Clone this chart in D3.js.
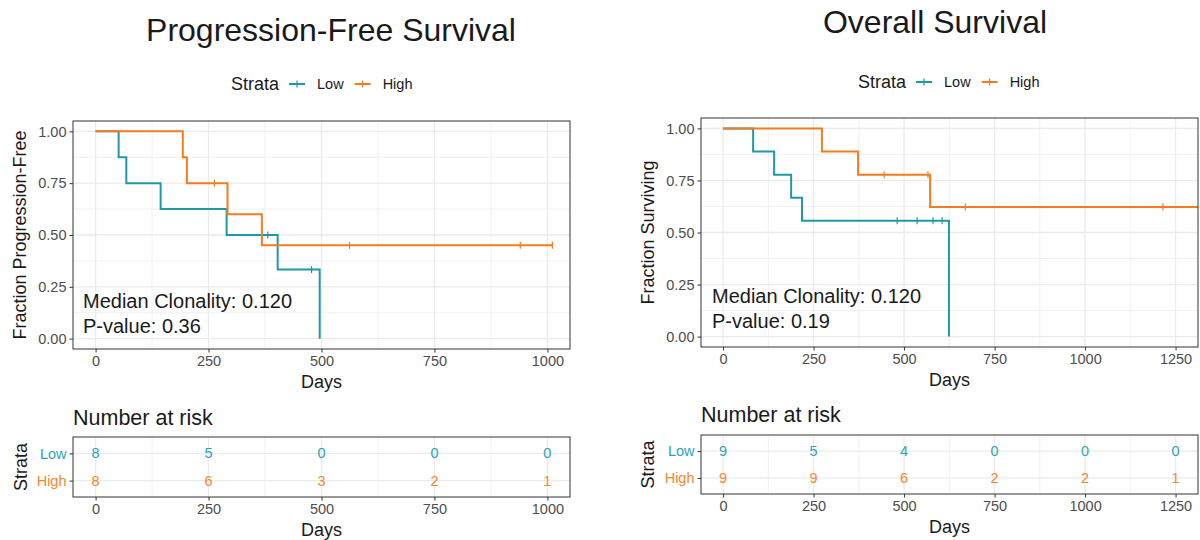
<!DOCTYPE html>
<html>
<head>
<meta charset="utf-8">
<script src="https://cdn.jsdelivr.net/npm/d3@7"></script>
<style>
  html, body { margin: 0; padding: 0; background: #fff; }
  svg { display: block; font-family: "Liberation Sans", Arial, Helvetica, sans-serif; }
</style>
</head>
<body>
<svg id="chart" width="1200" height="540"></svg>
<script>
// ---------------- DATA ----------------
const strata = ["Low", "High"];
const colors = { Low: "#1f99a9", High: "#f47b20" };
const riskColors = { Low: "#2ea3b3", High: "#f5872f" };

// Progression-free survival (KM steps)
const pfsLowTimes = [0, 51, 68, 144, 290, 403, 496];
const pfsLowSurv  = [1, 0.875, 0.75, 0.625, 0.5, 0.333, 0];
const pfsLowCensor = [381, 478];
const pfsLowEnd = 496;

const pfsHighTimes = [0, 193, 202, 292, 368];
const pfsHighSurv  = [1, 0.875, 0.75, 0.6, 0.45];
const pfsHighCensor = [263, 562, 940, 1011];
const pfsHighEnd = 1011;

// Overall survival (KM steps)
const osLowTimes = [0, 83, 141, 188, 218, 624];
const osLowSurv  = [1, 0.889, 0.778, 0.667, 0.556, 0];
const osLowCensor = [481, 536, 580, 605];
const osLowEnd = 624;

const osHighTimes = [0, 273, 373, 572];
const osHighSurv  = [1, 0.889, 0.778, 0.622];
const osHighCensor = [445, 566, 669, 1215];
const osHighEnd = 1320;

// Number at risk tables
const pfsRiskTimes = [0, 250, 500, 750, 1000];
const pfsRiskLow   = [8, 5, 0, 0, 0];
const pfsRiskHigh  = [8, 6, 3, 2, 1];
const osRiskTimes  = [0, 250, 500, 750, 1000, 1250];
const osRiskLow    = [9, 5, 4, 0, 0, 0];
const osRiskHigh   = [9, 9, 6, 2, 2, 1];

// Tick labels
const yTicks = [0, 0.25, 0.5, 0.75, 1];
const yMinor = [0.125, 0.375, 0.625, 0.875];
const pfsXTicks = [0, 250, 500, 750, 1000];
const osXTicks = [0, 250, 500, 750, 1000, 1250];

// Text
const titles = ["Progression-Free Survival", "Overall Survival"];
const yTitles = ["Fraction Progression-Free", "Fraction Surviving"];
const annotMedian = "Median Clonality: 0.120";
const annotP = ["P-value: 0.36", "P-value: 0.19"];

// ---------------- LAYOUT ----------------
const panels = [
  {
    title: titles[0], titleX: 331, titleY: 30,
    legendY: 84, legendX: 231,
    x0: 73, x1: 570, y0: 121, y1: 349, xdom: [-50, 1050],
    xTicks: pfsXTicks, yTitle: yTitles[0], yTitleX: 20,
    annot: [annotMedian, annotP[0]], annotY: [301, 326], annotX: 83,
    series: [
      { name: "Low", t: pfsLowTimes, s: pfsLowSurv, c: pfsLowCensor, end: pfsLowEnd },
      { name: "High", t: pfsHighTimes, s: pfsHighSurv, c: pfsHighCensor, end: pfsHighEnd }
    ],
    risk: { times: pfsRiskTimes, Low: pfsRiskLow, High: pfsRiskHigh },
    riskTitleY: 418, r0: 437, r1: 497, strataX: 21
  },
  {
    title: titles[1], titleX: 935, titleY: 22,
    legendY: 82, legendX: 858,
    x0: 701, x1: 1198, y0: 118, y1: 347, xdom: [-61, 1312],
    xTicks: osXTicks, yTitle: yTitles[1], yTitleX: 648,
    annot: [annotMedian, annotP[1]], annotY: [296, 321], annotX: 712,
    series: [
      { name: "Low", t: osLowTimes, s: osLowSurv, c: osLowCensor, end: osLowEnd },
      { name: "High", t: osHighTimes, s: osHighSurv, c: osHighCensor, end: osHighEnd }
    ],
    risk: { times: osRiskTimes, Low: osRiskLow, High: osRiskHigh },
    riskTitleY: 415, r0: 435, r1: 494, strataX: 648
  }
];

const svg = d3.select("#chart");
const gridCol = "#ebebeb";
const borderCol = "#333333";
const tickTextCol = "#4d4d4d";

function stepAt(times, surv, t) {
  let v = surv[0];
  for (let i = 0; i < times.length; i++) if (times[i] <= t) v = surv[i];
  return v;
}

panels.forEach((p, pi) => {
  const g = svg.append("g");
  const x = d3.scaleLinear().domain(p.xdom).range([p.x0, p.x1]);
  const y = d3.scaleLinear().domain([-0.05, 1.05]).range([p.y1, p.y0]);
  const cx = (p.x0 + p.x1) / 2;

  // Title
  g.append("text").attr("x", p.titleX).attr("y", p.titleY)
    .attr("text-anchor", "middle").attr("dominant-baseline", "central")
    .attr("font-size", 32).attr("fill", "#1a1a1a").text(p.title);

  // Legend
  const lg = g.append("g");
  let lx = p.legendX;
  const strataTxt = lg.append("text").attr("x", lx).attr("y", p.legendY)
    .attr("dominant-baseline", "central").attr("font-size", 18).attr("fill", "#1a1a1a").text("Strata");
  lx += strataTxt.node().getComputedTextLength() + 10;
  strata.forEach(s => {
    lg.append("line").attr("x1", lx).attr("x2", lx + 16).attr("y1", p.legendY).attr("y2", p.legendY)
      .attr("stroke", colors[s]).attr("stroke-width", 2);
    lg.append("line").attr("x1", lx + 8).attr("x2", lx + 8).attr("y1", p.legendY - 3.5).attr("y2", p.legendY + 3.5)
      .attr("stroke", colors[s]).attr("stroke-width", 1.2);
    lx += 28;
    const tt = lg.append("text").attr("x", lx).attr("y", p.legendY)
      .attr("dominant-baseline", "central").attr("font-size", 14.5).attr("fill", "#1a1a1a").text(s);
    lx += tt.node().getComputedTextLength() + 11;
  });

  // Clip
  const clipId = "clip" + pi;
  svg.append("clipPath").attr("id", clipId).append("rect")
    .attr("x", p.x0).attr("y", p.y0).attr("width", p.x1 - p.x0).attr("height", p.y1 - p.y0);

  // Grid
  const grid = g.append("g");
  const xMin = [];
  for (let i = 0; i < p.xTicks.length; i++) {
    const m = p.xTicks[i] + 125;
    if (m > p.xdom[0] && m < p.xdom[1]) xMin.push(m);
  }
  xMin.forEach(v => grid.append("line").attr("x1", x(v)).attr("x2", x(v)).attr("y1", p.y0).attr("y2", p.y1)
    .attr("stroke", gridCol).attr("stroke-width", 0.7));
  yMinor.forEach(v => grid.append("line").attr("x1", p.x0).attr("x2", p.x1).attr("y1", y(v)).attr("y2", y(v))
    .attr("stroke", gridCol).attr("stroke-width", 0.7));
  p.xTicks.forEach(v => grid.append("line").attr("x1", x(v)).attr("x2", x(v)).attr("y1", p.y0).attr("y2", p.y1)
    .attr("stroke", gridCol).attr("stroke-width", 1.3));
  yTicks.forEach(v => grid.append("line").attr("x1", p.x0).attr("x2", p.x1).attr("y1", y(v)).attr("y2", y(v))
    .attr("stroke", gridCol).attr("stroke-width", 1.3));

  // Curves
  const curves = g.append("g").attr("clip-path", `url(#${clipId})`);
  p.series.forEach(s => {
    const pts = s.t.map((t, i) => [t, s.s[i]]);
    pts.push([s.end, s.s[s.s.length - 1]]);
    const line = d3.line().x(d => x(d[0])).y(d => y(d[1])).curve(d3.curveStepAfter);
    curves.append("path").attr("d", line(pts)).attr("fill", "none")
      .attr("stroke", colors[s.name]).attr("stroke-width", 2);
    s.c.forEach(ct => {
      const sv = stepAt(s.t, s.s, ct);
      curves.append("line").attr("x1", x(ct)).attr("x2", x(ct)).attr("y1", y(sv) - 3.5).attr("y2", y(sv) + 3.5)
        .attr("stroke", colors[s.name]).attr("stroke-width", 1.2);
    });
  });

  // Border
  g.append("rect").attr("x", p.x0).attr("y", p.y0).attr("width", p.x1 - p.x0).attr("height", p.y1 - p.y0)
    .attr("fill", "none").attr("stroke", borderCol).attr("stroke-width", 1);

  // Axes
  const xAx = g.append("g").attr("transform", `translate(0,${p.y1})`)
    .call(d3.axisBottom(x).tickValues(p.xTicks).tickSize(3.5).tickPadding(3).tickFormat(d3.format("d")));
  const yAx = g.append("g").attr("transform", `translate(${p.x0},0)`)
    .call(d3.axisLeft(y).tickValues(yTicks).tickSize(3.5).tickPadding(3).tickFormat(d3.format(".2f")));
  [xAx, yAx].forEach(a => {
    a.select(".domain").remove();
    a.selectAll(".tick line").attr("stroke", borderCol);
    a.selectAll(".tick text").attr("fill", tickTextCol).attr("font-size", 14.5)
      .attr("font-family", "Liberation Sans, Arial, sans-serif");
  });

  g.append("text").attr("x", cx).attr("y", p.y1 + 33).attr("text-anchor", "middle")
    .attr("dominant-baseline", "central").attr("font-size", 18).attr("fill", "#1a1a1a").text("Days");
  g.append("text").attr("transform", `translate(${p.yTitleX},${(p.y0 + p.y1) / 2}) rotate(-90)`)
    .attr("text-anchor", "middle").attr("dominant-baseline", "central")
    .attr("font-size", 18).attr("fill", "#1a1a1a").text(p.yTitle);

  // Annotation
  p.annot.forEach((txt, i) => {
    g.append("text").attr("x", p.annotX).attr("y", p.annotY[i]).attr("dominant-baseline", "central")
      .attr("font-size", 20).attr("fill", "#1a1a1a").text(txt);
  });

  // ---------- Risk table ----------
  const rg = svg.append("g");
  const yr = d3.scalePoint().domain(strata).range([p.r0, p.r1]).padding(0.6);
  rg.append("text").attr("x", p.x0).attr("y", p.riskTitleY).attr("dominant-baseline", "central")
    .attr("font-size", 21.5).attr("fill", "#1a1a1a").text("Number at risk");

  xMin.forEach(v => rg.append("line").attr("x1", x(v)).attr("x2", x(v)).attr("y1", p.r0).attr("y2", p.r1)
    .attr("stroke", gridCol).attr("stroke-width", 0.7));
  p.xTicks.forEach(v => rg.append("line").attr("x1", x(v)).attr("x2", x(v)).attr("y1", p.r0).attr("y2", p.r1)
    .attr("stroke", gridCol).attr("stroke-width", 1.3));
  strata.forEach(s => rg.append("line").attr("x1", p.x0).attr("x2", p.x1).attr("y1", yr(s)).attr("y2", yr(s))
    .attr("stroke", gridCol).attr("stroke-width", 1.3));

  strata.forEach(s => {
    p.risk.times.forEach((t, i) => {
      rg.append("text").attr("x", x(t)).attr("y", yr(s)).attr("text-anchor", "middle")
        .attr("dominant-baseline", "central").attr("font-size", 14.5).attr("fill", riskColors[s])
        .text(p.risk[s][i]);
    });
  });

  rg.append("rect").attr("x", p.x0).attr("y", p.r0).attr("width", p.x1 - p.x0).attr("height", p.r1 - p.r0)
    .attr("fill", "none").attr("stroke", borderCol).attr("stroke-width", 1);

  const rxAx = rg.append("g").attr("transform", `translate(0,${p.r1})`)
    .call(d3.axisBottom(x).tickValues(p.xTicks).tickSize(3.5).tickPadding(3).tickFormat(d3.format("d")));
  const ryAx = rg.append("g").attr("transform", `translate(${p.x0},0)`)
    .call(d3.axisLeft(yr).tickSize(3.5).tickPadding(3));
  [rxAx, ryAx].forEach(a => {
    a.select(".domain").remove();
    a.selectAll(".tick line").attr("stroke", borderCol);
    a.selectAll(".tick text").attr("fill", tickTextCol).attr("font-size", 14.5)
      .attr("font-family", "Liberation Sans, Arial, sans-serif");
  });
  ryAx.selectAll(".tick text").attr("fill", d => riskColors[d]).attr("font-size", 14.5);

  rg.append("text").attr("x", cx).attr("y", p.r1 + 33).attr("text-anchor", "middle")
    .attr("dominant-baseline", "central").attr("font-size", 18).attr("fill", "#1a1a1a").text("Days");
  rg.append("text").attr("transform", `translate(${p.strataX},${(p.r0 + p.r1) / 2}) rotate(-90)`)
    .attr("text-anchor", "middle").attr("dominant-baseline", "central")
    .attr("font-size", 18).attr("fill", "#1a1a1a").text("Strata");
});
</script>
</body>
</html>
